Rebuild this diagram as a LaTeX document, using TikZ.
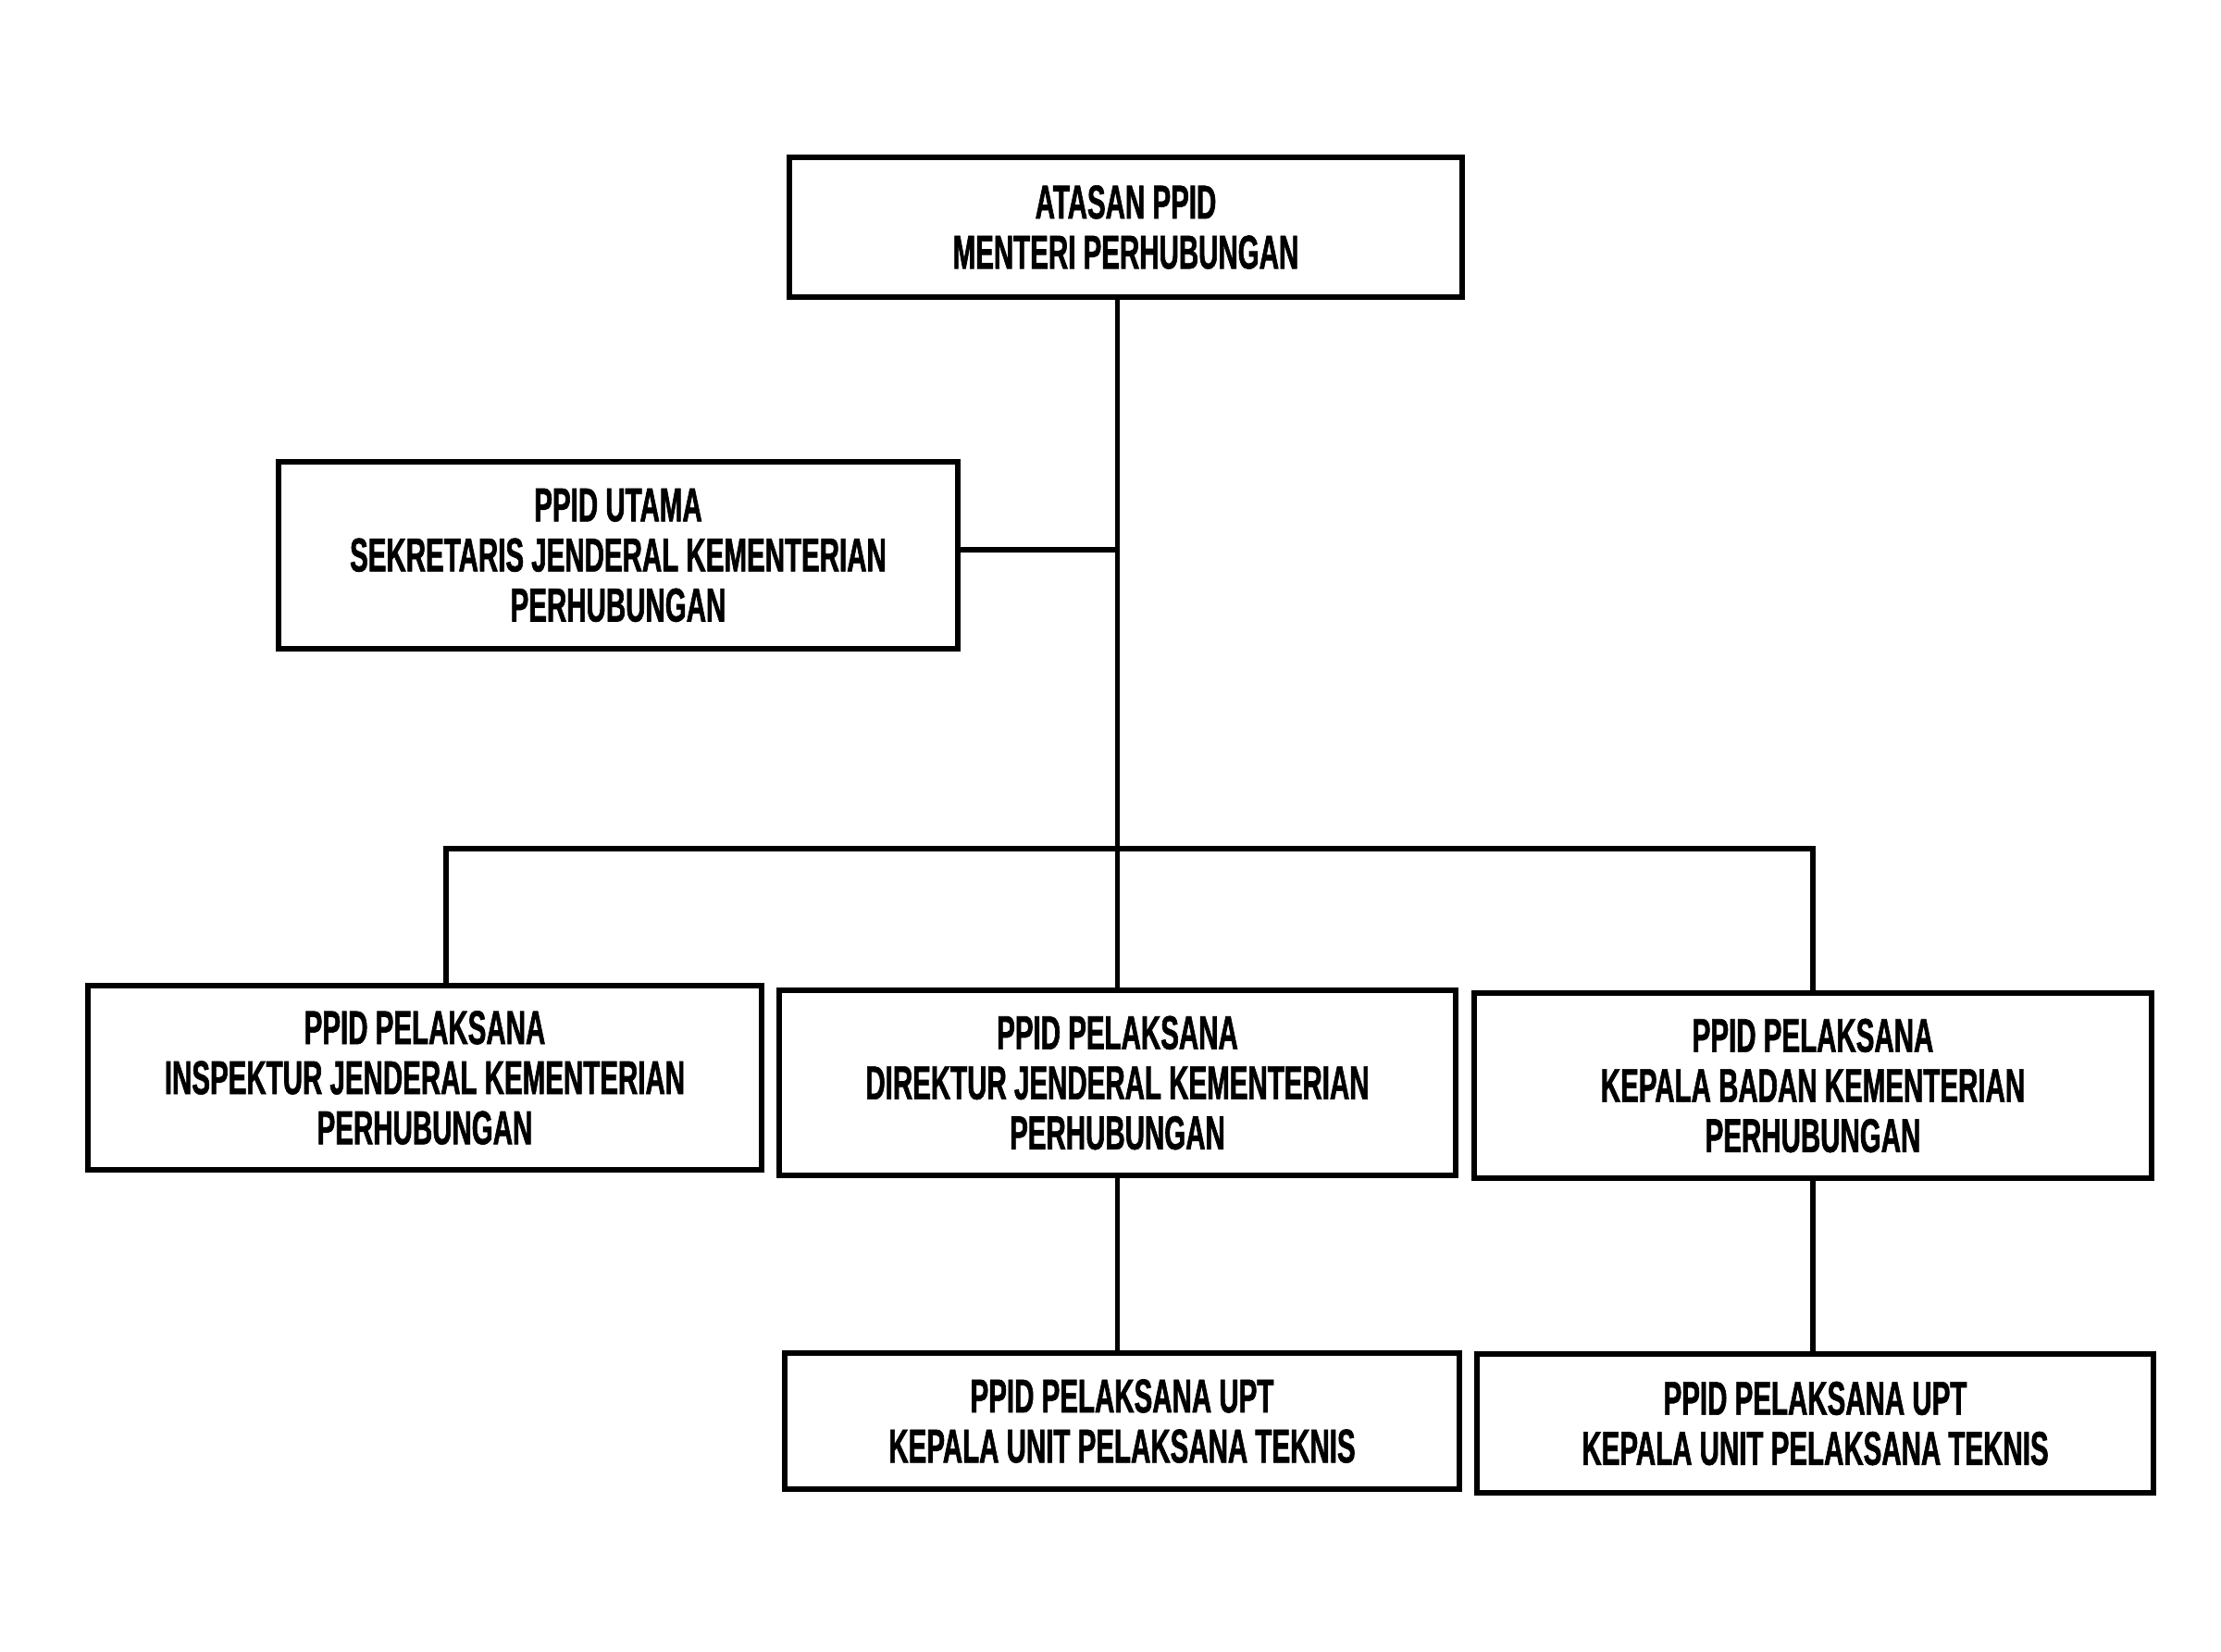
\documentclass[tikz,border=0pt]{standalone}
\usepackage{fontspec}
\setmainfont{Liberation Sans}[FakeStretch=0.575,BoldFeatures={FakeBold=1.2,FakeStretch=0.575}]
\begin{document}
\begin{tikzpicture}[x=1cm,y=1cm,
  orgbox/.style={draw=black, line width=1.7pt, fill=white, align=center, inner sep=0pt,
    font=\fontsize{14.6}{15.4}\selectfont\bfseries},
  link/.style={draw=black, line width=1.5pt}]
\useasboundingbox (0,0) rectangle (24,-17.84);
\fill[white] (0,0) rectangle (24,-17.84);
\node[orgbox, minimum width=7.27cm, minimum height=1.51cm] (top) at (12.165,-2.455) {ATASAN PPID\\MENTERI PERHUBUNGAN};
\node[orgbox, minimum width=7.34cm, minimum height=2.02cm] (ut) at (6.68,-6.00) {PPID UTAMA\\SEKRETARIS JENDERAL KEMENTERIAN\\PERHUBUNGAN};
\node[orgbox, minimum width=7.28cm, minimum height=1.99cm] (L) at (4.59,-11.645) {PPID PELAKSANA\\INSPEKTUR JENDERAL KEMENTERIAN\\PERHUBUNGAN};
\node[orgbox, minimum width=7.31cm, minimum height=2.00cm] (M) at (12.075,-11.70) {PPID PELAKSANA\\DIREKTUR JENDERAL KEMENTERIAN\\PERHUBUNGAN};
\node[orgbox, minimum width=7.32cm, minimum height=2.00cm] (R) at (19.59,-11.73) {PPID PELAKSANA\\KEPALA BADAN KEMENTERIAN\\PERHUBUNGAN};
\node[orgbox, minimum width=7.29cm, minimum height=1.47cm] (BM) at (12.125,-15.355) {PPID PELAKSANA UPT\\KEPALA UNIT PELAKSANA TEKNIS};
\node[orgbox, minimum width=7.31cm, minimum height=1.50cm] (BR) at (19.615,-15.38) {PPID PELAKSANA UPT\\KEPALA UNIT PELAKSANA TEKNIS};
\coordinate (barL) at (4.82,-9.17);
\coordinate (barR) at (19.59,-9.17);
\coordinate (utj) at (10.35,-5.94);
\draw[link] (top.south -| M.north) -- (M.north);
\draw[link] (utj) -- (utj -| M.north);
\draw[link] (L.north -| barL) -- (barL) -- (barR) -- (R.north);
\draw[link] (M.south) -- (M.south |- BM.north);
\draw[link] (R.south) -- (BR.north -| R.south);
\end{tikzpicture}
\end{document}
